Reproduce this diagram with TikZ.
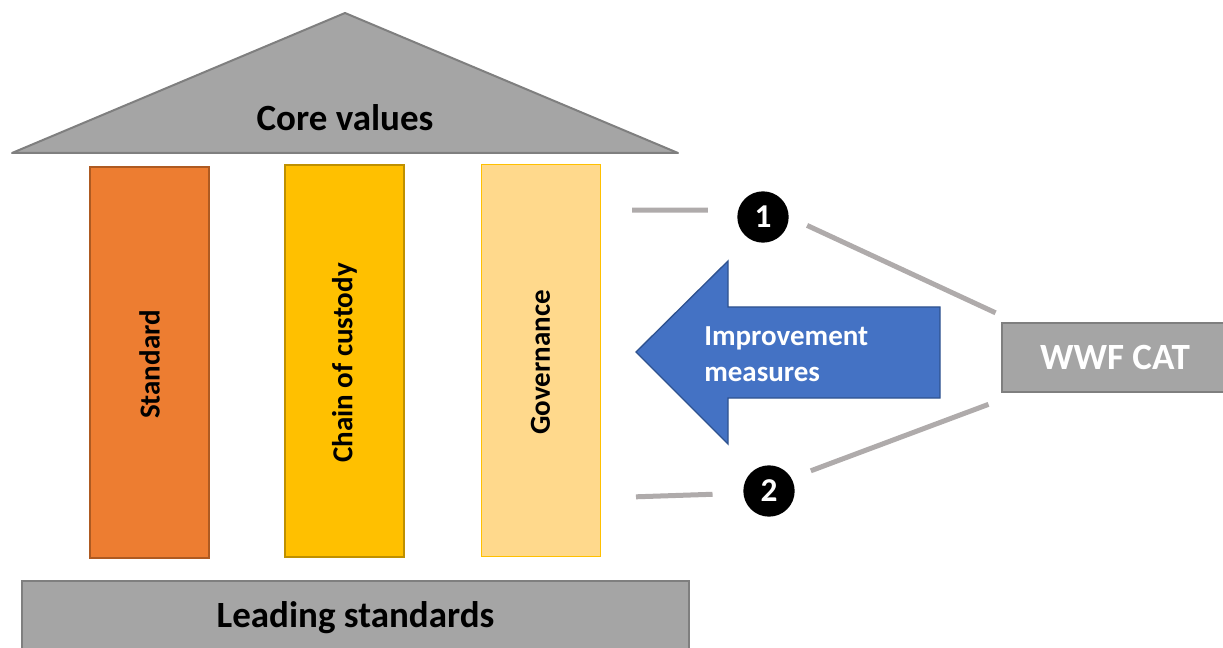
\documentclass[tikz,border=0pt]{standalone}
\usepackage{fontspec}
\setmainfont{Carlito}
\usetikzlibrary{positioning}

\definecolor{roofgray}{HTML}{A5A5A5}
\definecolor{edgegray}{HTML}{7F7F7F}
\definecolor{linkgray}{HTML}{AFABAB}
\definecolor{stdorange}{HTML}{ED7D31}
\definecolor{stdedge}{HTML}{AE5A21}
\definecolor{cocgold}{HTML}{FFC000}
\definecolor{cocedge}{HTML}{BF9000}
\definecolor{govlight}{HTML}{FFD98C}
\definecolor{arrowblue}{HTML}{4472C4}
\definecolor{arrowedge}{HTML}{2F528F}

\newcommand{\bigfont}{\fontsize{27.75}{33}\selectfont\bfseries}
\newcommand{\smallfont}{\fontsize{21.75}{27}\selectfont\bfseries}

\begin{document}
\begin{tikzpicture}[x=0.75pt, y=-0.75pt]
    \tikzstyle{gnode} = [draw=edgegray, fill=roofgray, line width=1.5pt]
    \tikzstyle{pnode} = [rectangle, line width=1.5pt, rotate=90, inner sep=0pt,
                         minimum width=293.25pt, minimum height=89.25pt]
    \tikzstyle{ptext} = [rotate=90, inner sep=0pt, font=\smallfont]
    \tikzstyle{numnode} = [circle, fill=black, inner sep=0pt, minimum size=38.5pt,
                           text=white, font=\fontsize{25}{29}\selectfont\bfseries]
    \tikzstyle{link} = [draw=linkgray, line width=3.75pt]
    \useasboundingbox (0,0) rectangle (1223,648);

    % roof
    \coordinate (rl) at (12,153);
    \coordinate (rt) at (345,13);
    \coordinate (rr) at (678,153);
    \draw[gnode, line join=round] (rl) -- (rt) -- (rr) -- cycle;
    \node[font=\bigfont] (core) at (345,118) {Core values};

    % pillars
    \node[pnode, fill=stdorange, draw=stdedge] (std) at (149.5,362.5) {};
    \node[pnode, fill=cocgold, draw=cocedge] (coc) at (344.5,361) {};
    \node[pnode, fill=govlight, draw=cocgold, line width=0.75pt] (gov) at (540.5,360.5) {};
    \node[ptext] (stdt) at ([yshift=-1.5pt]std) {Standard};
    \node[ptext] (coct) at ([yshift=-1.5pt]coc) {Chain of custody};
    \node[ptext] (govt) at ([yshift=-1.5pt]gov) {Governance};

    % base
    \node[gnode, minimum width=500.25pt, minimum height=55.5pt, font=\bigfont] (lead)
        at (355.5,618) {Leading standards};

    % improvement arrow
    \draw[fill=arrowblue, draw=arrowedge, line width=1pt]
        (636,352) -- (728,261) -- (728,307) -- (940,307) -- (940,398)
        -- (728,398) -- (728,444) -- cycle;
    \node[anchor=west, align=left, inner sep=0pt, text=white, font=\smallfont] (imp)
        at (704,354) {Improvement\\measures};

    % assessment tool
    \node[gnode, minimum width=169.5pt, minimum height=51.75pt, text=white, font=\bigfont] (cat)
        at (1115,357.5) {WWF CAT};

    % numbered steps
    \node[numnode] (c1) at (763,217) {1};
    \node[numnode] (c2) at (769,491) {2};
    \coordinate (g1) at (600,210);
    \coordinate (g2) at (600,498);

    \draw[link, shorten <=24pt, shorten >=22.5pt] (g1) -- (c1.165);
    \draw[link, shorten <=27pt, shorten >=23pt] (g2) -- (c2.185);
    \draw[link, shorten <=15pt, shorten >=4.5pt] (c1.east) -- ([yshift=5pt]cat.north west);
    \draw[link, shorten <=15.5pt, shorten >=10pt] (c2.30) -- ([yshift=-5pt]cat.south west);
\end{tikzpicture}
\end{document}
